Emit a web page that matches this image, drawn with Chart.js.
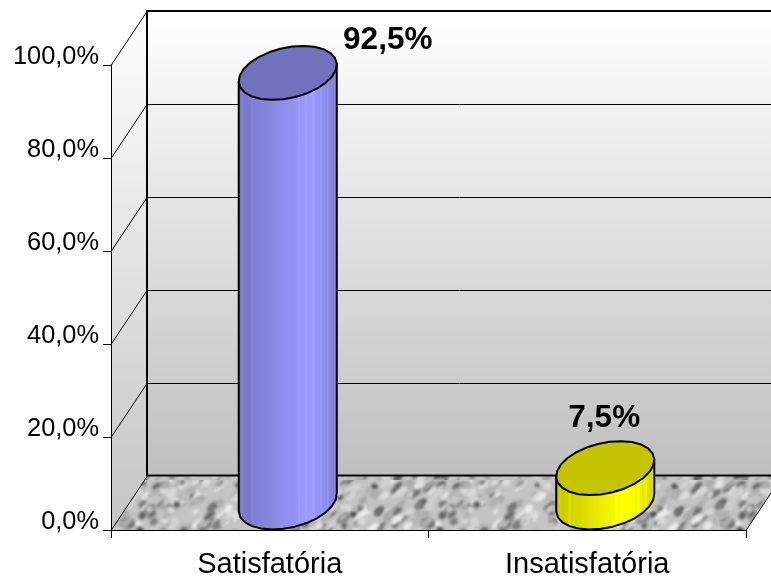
<!DOCTYPE html>
<html>
<head>
<meta charset="utf-8">
<style>
  html, body { margin: 0; padding: 0; background: #fff; }
  canvas { display: block; }
</style>
<script src="https://cdn.jsdelivr.net/npm/chart.js@4/dist/chart.umd.min.js"></script>
</head>
<body>
<canvas id="grafico" width="771" height="576"></canvas>
<script>
const categorias = ['Satisfatória', 'Insatisfatória'];
const valores = [92.5, 7.5];
const rotulos = ['92,5%', '7,5%'];
const tickValores = [0, 20, 40, 60, 80, 100];
const tickRotulos = ['0,0%', '20,0%', '40,0%', '60,0%', '80,0%', '100,0%'];

const CORES = [
  { tampa: '#7272bc', corpo: [153, 153, 255] },
  { tampa: '#c4c400', corpo: [255, 255, 0] }
];

// profundidade da "caixa" 3D
const DX = 36, DY = -54;
const FONTE = '"Liberation Sans", Arial, sans-serif';
// deslocamento do rótulo em relação ao topo da barra
const ROTULO_POS = [{ x: 118, y: -60 }, { x: 17, y: -77 }];

function texturaPiso() {
  const c = document.createElement('canvas');
  c.width = 300; c.height = 120;
  const g = c.getContext('2d');
  g.fillStyle = '#c4c4c4';
  g.fillRect(0, 0, c.width, c.height);
  g.filter = 'blur(1.7px)';
  let s = 12345;
  const rnd = () => (s = (s * 1103515245 + 12345) & 0x7fffffff) / 0x7fffffff;
  for (let i = 0; i < 760; i++) {
    const v = Math.round(rnd() < 0.3 ? 80 + rnd() * 50 : 165 + rnd() * 75);
    g.fillStyle = `rgb(${v},${v},${v})`;
    g.beginPath();
    g.ellipse(rnd() * 300, rnd() * 120, 2.5 + rnd() * 5, 1.5 + rnd() * 2.5, -0.7, 0, Math.PI * 2);
    g.fill();
  }
  return c;
}

const caixa3d = {
  id: 'caixa3d',
  beforeDraw(chart) {
    const { ctx, chartArea: a, scales: { y } } = chart;
    const esq = a.left, dir = a.right, topo = a.top, base = a.bottom;
    const gradParede = ctx.createLinearGradient(0, topo + DY, 0, base + DY);
    gradParede.addColorStop(0, '#ffffff');
    gradParede.addColorStop(1, '#bfbfbf');

    ctx.save();
    // parede do fundo
    ctx.fillStyle = gradParede;
    ctx.fillRect(esq + DX, topo + DY, dir - esq, base - topo);

    // parede lateral
    const gradLado = ctx.createLinearGradient(0, topo + DY, 0, base);
    gradLado.addColorStop(0, '#ffffff');
    gradLado.addColorStop(1, '#c4c4c4');
    ctx.fillStyle = gradLado;
    ctx.beginPath();
    ctx.moveTo(esq, topo);
    ctx.lineTo(esq + DX, topo + DY);
    ctx.lineTo(esq + DX, base + DY);
    ctx.lineTo(esq, base);
    ctx.closePath();
    ctx.fill();

    // piso
    ctx.save();
    ctx.beginPath();
    ctx.moveTo(esq, base);
    ctx.lineTo(esq + DX, base + DY);
    ctx.lineTo(dir + DX, base + DY);
    ctx.lineTo(dir, base);
    ctx.closePath();
    ctx.clip();
    ctx.fillStyle = ctx.createPattern(texturaPiso(), 'repeat');
    ctx.fillRect(esq, base + DY, dir - esq + DX, -DY);
    ctx.restore();

    // linhas de grade
    ctx.strokeStyle = '#000';
    ctx.lineWidth = 1;
    y.ticks.forEach(t => {
      const py = Math.round(y.getPixelForValue(t.value)) + 0.5;
      ctx.beginPath();
      ctx.moveTo(esq, py);
      ctx.lineTo(esq + DX, py + DY);
      if (t.value > 0 && t.value < 100) ctx.lineTo(dir + DX, py + DY);
      ctx.stroke();
    });
    ctx.beginPath();
    ctx.moveTo(dir, base + 0.5);
    ctx.lineTo(dir + DX, base + DY + 0.5);
    ctx.stroke();

    // contorno do fundo
    ctx.lineWidth = 2;
    ctx.beginPath();
    ctx.moveTo(dir + DX, topo + DY);
    ctx.lineTo(esq + DX, topo + DY);
    ctx.lineTo(esq + DX, base + DY - 0.5);
    ctx.lineTo(dir + DX, base + DY - 0.5);
    ctx.stroke();
    ctx.restore();
  },
  beforeDatasetDraw(chart, args) {
    const ctx = chart.ctx;
    chart.getDatasetMeta(args.index).data.forEach((bar, i) => desenhaCilindro(ctx, bar, CORES[i]));
    return false;
  },
  afterDatasetsDraw(chart) {
    const ctx = chart.ctx;
    ctx.save();
    ctx.fillStyle = '#000';
    ctx.font = 'bold 31.5px ' + FONTE;
    ctx.textAlign = 'center';
    ctx.textBaseline = 'middle';
    chart.getDatasetMeta(0).data.forEach((bar, i) => {
      ctx.fillText(rotulos[i], bar.x + ROTULO_POS[i].x, bar.y + ROTULO_POS[i].y);
    });
    ctx.restore();
  }
};

// contorno da elipse inclinada, facetado como no original
function contorno(cx, cy, meio) {
  const PASSOS = 26;
  const sx = 15, sy = DY / 2;
  const ax = Math.sqrt(meio * meio - sx * sx);
  const pts = [];
  for (let k = 0; k < PASSOS; k++) {
    const t = Math.PI * 2 * k / PASSOS + 0.1;
    pts.push([cx + ax * Math.cos(t) + sx * Math.sin(t), cy + sy * Math.sin(t)]);
  }
  return pts;
}

function desenhaCilindro(ctx, bar, cor) {
  const meio = bar.width / 2;
  const cx = bar.x + DX / 2;
  const topoPts = contorno(cx, bar.y + DY / 2, meio);
  const basePts = contorno(cx, bar.base + DY / 2, meio);
  const xs = basePts.map(p => p[0]);
  const iEsq = xs.indexOf(Math.min(...xs));
  const iDir = xs.indexOf(Math.max(...xs));

  // faixas verticais do corpo
  const grad = ctx.createLinearGradient(cx - meio, 0, cx + meio, 0);
  const N = 40;
  for (let i = 0; i < N; i++) {
    const p = i / N;
    let f = p < 0.72 ? 0.78 + 0.24 * (p / 0.72) : 1.02 - 0.2 * ((p - 0.72) / 0.28);
    if ((i % 3 === 0 && p > 0.55) || (i % 4 === 1 && p < 0.2)) f += 0.04;
    const c = cor.corpo.map(v => Math.min(255, Math.round(v * f)));
    const css = `rgb(${c[0]},${c[1]},${c[2]})`;
    grad.addColorStop(p, css);
    grad.addColorStop((i + 1) / N, css);
  }

  ctx.save();
  ctx.lineJoin = 'round';
  ctx.strokeStyle = '#000';
  ctx.lineWidth = 2;

  ctx.beginPath();
  ctx.moveTo(topoPts[iEsq][0], topoPts[iEsq][1]);
  for (let k = iEsq; ; k = (k + 1) % basePts.length) {
    ctx.lineTo(basePts[k][0], basePts[k][1]);
    if (k === iDir) break;
  }
  ctx.lineTo(topoPts[iDir][0], topoPts[iDir][1]);
  ctx.closePath();
  ctx.fillStyle = grad;
  ctx.fill();
  ctx.stroke();

  // tampa
  ctx.beginPath();
  topoPts.forEach((p, k) => {
    if (k === 0) ctx.moveTo(p[0], p[1]); else ctx.lineTo(p[0], p[1]);
  });
  ctx.closePath();
  ctx.fillStyle = cor.tampa;
  ctx.fill();
  ctx.stroke();
  ctx.restore();
}

new Chart(document.getElementById('grafico'), {
  type: 'bar',
  data: {
    labels: categorias,
    datasets: [{
      data: valores,
      backgroundColor: CORES.map(c => c.tampa),
      categoryPercentage: 1,
      barPercentage: 0.309
    }]
  },
  options: {
    responsive: false,
    animation: false,
    layout: { padding: { top: 65, right: 25, left: 0, bottom: 0 } },
    plugins: { legend: { display: false }, tooltip: { enabled: false } },
    scales: {
      x: {
        afterFit: s => { s.height = 46; },
        border: { display: true, color: '#000', width: 1 },
        grid: { drawOnChartArea: false, drawTicks: true, tickLength: 8, color: '#000', offset: true },
        ticks: { color: '#000', padding: 10, maxRotation: 0, font: { family: FONTE, size: 29 } }
      },
      y: {
        min: 0,
        max: 100,
        afterFit: s => { s.width = 111; },
        afterBuildTicks: s => { s.ticks = tickValores.map(value => ({ value })); },
        border: { display: true, color: '#000', width: 1 },
        grid: { drawOnChartArea: false, drawTicks: true, tickLength: 8, color: '#000' },
        ticks: {
          color: '#000',
          padding: 4,
          font: { family: FONTE, size: 25.4, lineHeight: 0.6 },
          // linha vazia para subir o rótulo em relação à marca
          callback: (v, i) => [tickRotulos[i], '']
        }
      }
    }
  },
  plugins: [caixa3d]
});
</script>
</body>
</html>
